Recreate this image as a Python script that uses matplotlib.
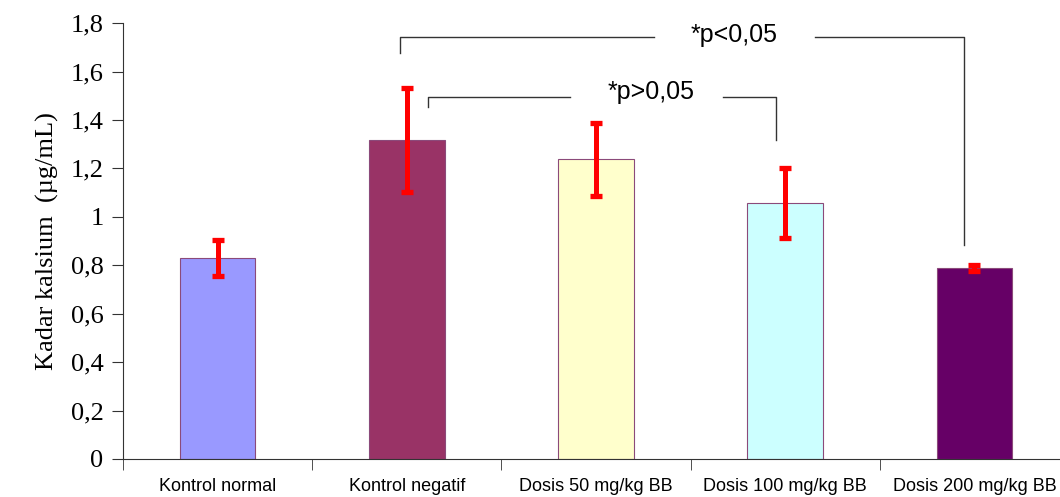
import matplotlib
matplotlib.use("Agg")
import matplotlib.pyplot as plt
import numpy as np

# data
groups = ['Kontrol normal', 'Kontrol negatif', 'Dosis 50 mg/kg BB',
          'Dosis 100 mg/kg BB', 'Dosis 200 mg/kg BB']
kadar = [0.83, 1.317, 1.238, 1.057, 0.789]
sd = [0.075, 0.215, 0.15, 0.145, 0.012]
warna = ['#9999FF', '#993366', '#FFFFCC', '#CCFFFF', '#660066']
yticks = [0, 0.2, 0.4, 0.6, 0.8, 1, 1.2, 1.4, 1.6, 1.8]
ytick_labels = ['0', '0,2', '0,4', '0,6', '0,8', '1', '1,2', '1,4', '1,6', '1,8']

fig = plt.figure(figsize=(10.6, 4.97), dpi=100)
ax = fig.add_axes([0.116, 0.0765, 0.8925, 0.877])

x = np.arange(len(groups))
ax.bar(x, kadar, width=0.4, color=warna, edgecolor='#8B4A7A', linewidth=0.8, zorder=2)
ax.errorbar(x, kadar, yerr=sd, fmt='none', ecolor='#FF0000',
            elinewidth=3.6, capsize=4, capthick=3.8, zorder=3)

ax.set_xlim(-0.5, 4.5)
ax.set_ylim(0, 1.8)
ax.set_yticks(yticks)
ax.set_yticklabels(ytick_labels, fontsize=19, family='Liberation Serif')
ax.set_ylabel('Kadar kalsium  (µg/mL)', fontsize=19, family='Liberation Serif', labelpad=8)

ax.set_xticks(x)
ax.set_xticklabels(groups, fontsize=13, family='Liberation Sans')
ax.set_xticks(np.arange(-0.5, 5.0, 1.0), minor=True)
ax.tick_params(axis='x', which='major', length=0, pad=14)
ax.tick_params(axis='x', which='minor', length=8, direction='out', color='#333333')
ax.tick_params(axis='y', length=8, direction='out', color='#333333', pad=6)

for s in ['top', 'right']:
    ax.spines[s].set_visible(False)
ax.spines['left'].set_color('#333333')
ax.spines['bottom'].set_color('#333333')

# significance brackets
lc = '#333333'
ax.plot([0.966, 0.966, 2.305], [1.676, 1.742, 1.742], color=lc, lw=1.0, clip_on=False)
ax.plot([3.155, 3.944, 3.944], [1.742, 1.742, 0.884], color=lc, lw=1.0, clip_on=False)
ax.text(2.73, 1.75, '*p<0,05', fontsize=18, family='Liberation Sans', ha='center', va='center')

ax.plot([1.114, 1.114, 1.865], [1.453, 1.495, 1.495], color=lc, lw=1.0)
ax.plot([2.67, 2.95, 2.95], [1.495, 1.495, 1.317], color=lc, lw=1.0)
ax.text(2.29, 1.515, '*p>0,05', fontsize=18, family='Liberation Sans', ha='center', va='center')

plt.savefig('out.png', dpi=100)
